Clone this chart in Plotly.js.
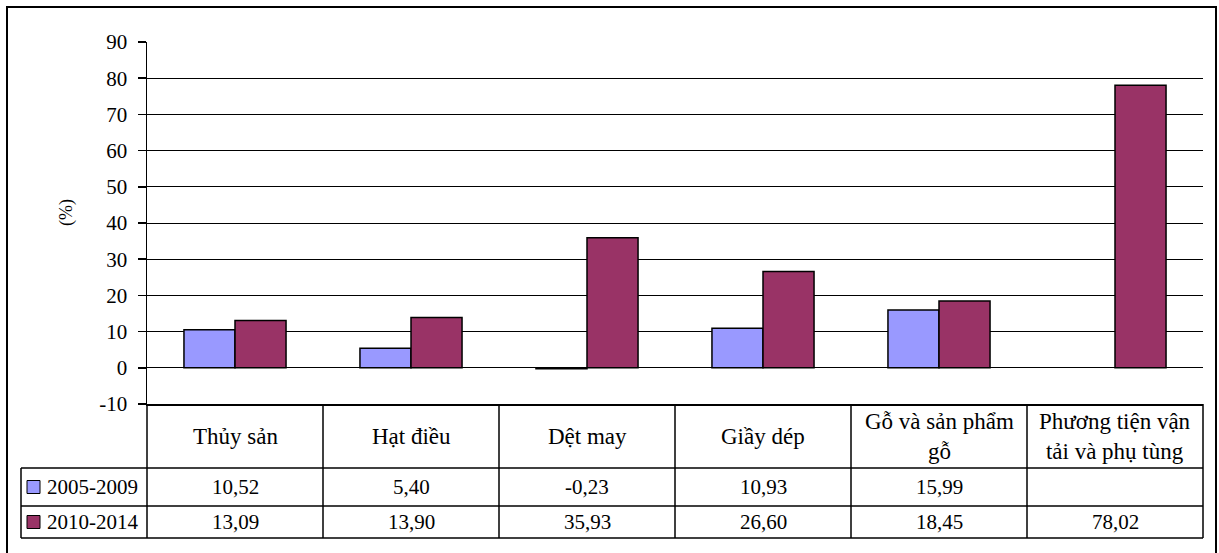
<!DOCTYPE html>
<html>
<head>
<meta charset="utf-8">
<script src="https://cdn.plot.ly/plotly-3.0.1.min.js"></script>
<style>
  html, body { margin: 0; padding: 0; background: #fff; }
  #chart { width: 1219px; height: 553px; }
  #chart svg text { font-family: "Liberation Serif", serif !important; }
</style>
</head>
<body>
<div id="chart"></div>
<script>
// Growth of export items (%), two periods
const categories = ['Thủy sản', 'Hạt điều', 'Dệt may', 'Giầy dép', 'Gỗ và sản phẩm gỗ', 'Phương tiện vận tải và phụ tùng'];
const categoryLabels = ['Thủy sản', 'Hạt điều', 'Dệt may', 'Giầy dép', 'Gỗ và sản phẩm<br>gỗ', 'Phương tiện vận<br>tải và phụ tùng'];
const seriesNames = ['2005-2009', '2010-2014'];
const values2005 = [10.52, 5.40, -0.23, 10.93, 15.99, null];
const values2010 = [13.09, 13.90, 35.93, 26.60, 18.45, 78.02];
const yTicks = [-10, 0, 10, 20, 30, 40, 50, 60, 70, 80, 90];

const colors = ['#9999FF', '#993366'];
const FONT = 'Liberation Serif';

// page geometry (pixels) for the plot area and the data table under it
const W = 1219, H = 553;
const L = 147, R = 1203, T = 42, B = 404;
const px = x => (x - L) / (R - L);
const py = y => (B - y) / (B - T);

const colEdges = [147, 323, 499, 675, 851, 1027, 1203];
const rowHeader = [404, 468];
const rowA = [468, 506];
const rowB = [506, 538];
const tableLeft = 21;

const fmt = v => (v === null || v === undefined) ? '' : v.toFixed(2).replace('.', ',');

const traces = [values2005, values2010].map((vals, i) => ({
  type: 'bar',
  name: seriesNames[i],
  x: categories,
  y: vals,
  marker: { color: colors[i], line: { color: '#000', width: 1.5 } },
  hoverinfo: 'x+y'
}));

const shapes = [];
const line = (x0, y0, x1, y1, w) => shapes.push({
  type: 'line', xref: 'paper', yref: 'paper',
  x0: px(x0), y0: py(y0), x1: px(x1), y1: py(y1),
  line: { color: '#000', width: w || 1.5 }
});

// outer frame
shapes.push({
  type: 'rect', xref: 'paper', yref: 'paper',
  x0: px(7), y0: py(7), x1: px(1216), y1: py(570),
  line: { color: '#000', width: 2 }, fillcolor: 'rgba(0,0,0,0)'
});

// table grid
colEdges.forEach(x => line(x, rowHeader[0], x, rowB[1]));
line(tableLeft, rowA[0], tableLeft, rowB[1]);
[rowA[0], rowB[0], rowB[1]].forEach(y => line(tableLeft, y, R, y));

// legend keys inside the table
[rowA, rowB].forEach((row, i) => {
  const cy = (row[0] + row[1]) / 2;
  shapes.push({
    type: 'rect', xref: 'paper', yref: 'paper',
    x0: px(27), x1: px(40), y0: py(cy - 6.5), y1: py(cy + 6.5),
    fillcolor: colors[i], line: { color: '#000', width: 1 }
  });
});

const annotations = [];
const txt = (x, xref, y, text, extra) => annotations.push(Object.assign({
  x: x, xref: xref, y: y, yref: 'paper', text: text, showarrow: false,
  xanchor: 'center', yanchor: 'middle',
  font: { family: FONT, size: 21, color: '#000' }
}, extra || {}));

categories.forEach((c, i) => {
  txt(c, 'x', py((rowHeader[0] + rowHeader[1]) / 2), categoryLabels[i],
      { font: { family: FONT, size: 23, color: '#000' } });
  txt(c, 'x', py((rowA[0] + rowA[1]) / 2), fmt(values2005[i]));
  txt(c, 'x', py((rowB[0] + rowB[1]) / 2), fmt(values2010[i]));
});

seriesNames.forEach((n, i) => {
  const row = i === 0 ? rowA : rowB;
  txt(px(45), 'paper', py((row[0] + row[1]) / 2), n, { xanchor: 'left' });
});

// y axis unit label
txt(px(67), 'paper', py(213), '(%)', { textangle: -90, font: { family: FONT, size: 18, color: '#000' } });

const layout = {
  width: W, height: H,
  margin: { l: L, r: W - R, t: T, b: H - B, pad: 0 },
  paper_bgcolor: '#fff', plot_bgcolor: '#fff',
  showlegend: false,
  barmode: 'group', bargap: 0.42, bargroupgap: 0,
  font: { family: FONT, size: 21, color: '#000' },
  xaxis: {
    type: 'category', categoryorder: 'array', categoryarray: categories,
    showticklabels: false, ticks: '', showgrid: false, zeroline: false,
    showline: true, linecolor: '#000', linewidth: 1.5
  },
  yaxis: {
    range: [-10, 90], tickvals: yTicks, ticktext: yTicks.map(String),
    ticks: 'outside', ticklen: 8, tickwidth: 1.5, tickcolor: '#000',
    ticklabelstandoff: 6,
    showline: true, linecolor: '#000', linewidth: 1.5,
    showgrid: true, gridcolor: '#000', gridwidth: 1,
    zeroline: false,
    tickfont: { family: FONT, size: 21, color: '#000' }
  },
  shapes: shapes,
  annotations: annotations
};

Plotly.newPlot('chart', traces, layout, { staticPlot: true, displayModeBar: false });
</script>
</body>
</html>
